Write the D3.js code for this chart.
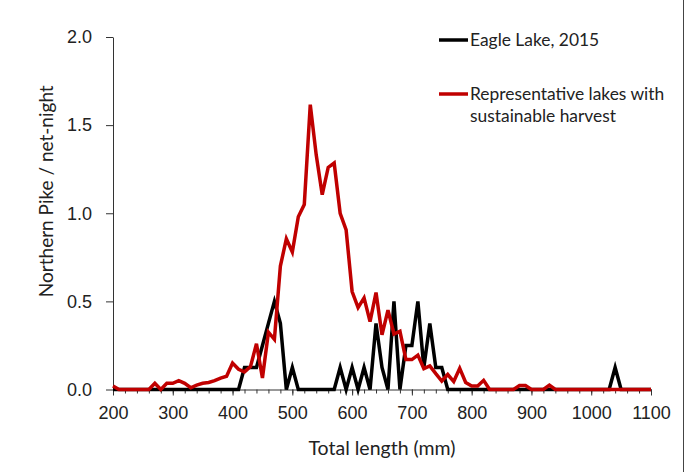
<!DOCTYPE html>
<html>
<head>
<meta charset="utf-8">
<script src="https://cdn.jsdelivr.net/npm/d3@7"></script>
<style>
  body { margin: 0; background: #fff; }
  svg { display: block; font-family: Lato, "Open Sans", sans-serif; }
</style>
</head>
<body>
<div id="chart"></div>
<script>
const W = 688, H = 472;
const margin = { top: 37, right: 37, bottom: 83, left: 113 };

// length classes, 10 mm bins
const lengths = d3.range(200, 1101, 10);

// Eagle Lake, 2015 (fish / net-night), non-zero bins only
const eagleNonZero = {
  420: 0.125, 430: 0.125, 440: 0.125, 450: 0.25, 460: 0.375, 470: 0.5, 480: 0.375,
  500: 0.125, 580: 0.125, 600: 0.125, 620: 0.125, 640: 0.375, 650: 0.125,
  670: 0.5, 690: 0.25, 700: 0.25, 710: 0.5, 720: 0.125, 730: 0.375,
  740: 0.125, 750: 0.125, 1040: 0.125
};

// representative lakes with sustainable harvest, non-zero bins only
const refNonZero = {
  200: 0.02, 270: 0.035, 290: 0.035, 300: 0.035, 310: 0.05, 320: 0.035, 330: 0.01,
  340: 0.025, 350: 0.035, 360: 0.04, 370: 0.05, 380: 0.065, 390: 0.075,
  400: 0.15, 410: 0.115, 420: 0.1, 430: 0.13, 440: 0.26, 450: 0.065,
  460: 0.325, 470: 0.285, 480: 0.7, 490: 0.855, 500: 0.78, 510: 0.98,
  520: 1.05, 530: 1.616, 540: 1.33, 550: 1.105, 560: 1.26, 570: 1.285,
  580: 1.0, 590: 0.905, 600: 0.556, 610: 0.465, 620: 0.52, 630: 0.385,
  640: 0.55, 650: 0.31, 660: 0.45, 670: 0.315, 680: 0.33, 690: 0.17,
  700: 0.17, 710: 0.195, 720: 0.118, 730: 0.134, 740: 0.09, 750: 0.048,
  760: 0.085, 770: 0.045, 780: 0.12, 790: 0.04, 800: 0.02, 810: 0.02,
  820: 0.052, 880: 0.022, 890: 0.022, 930: 0.025
};

const eagle = lengths.map(l => eagleNonZero[l] || 0);
const reference = lengths.map(l => refNonZero[l] || 0);

const xTicks = d3.range(200, 1101, 100);
const xMinor = d3.range(200, 1101, 20);
const yTicks = [0, 0.5, 1.0, 1.5, 2.0];

const svg = d3.select("#chart").append("svg")
  .attr("width", W).attr("height", H);

// outer chart border (right edge visible)
svg.append("line")
  .attr("x1", 683.5).attr("x2", 683.5).attr("y1", 0).attr("y2", H)
  .attr("stroke", "#444").attr("stroke-width", 1);

const x = d3.scaleLinear().domain([200, 1100]).range([margin.left, W - margin.right]);
const y = d3.scaleLinear().domain([0, 2]).range([H - margin.bottom + 0.5, margin.top]);

const g = svg.append("g");

// minor ticks on x
g.append("g")
  .attr("transform", `translate(0,${y(0)})`)
  .call(d3.axisBottom(x).tickValues(xMinor).tickSize(4).tickFormat(""))
  .call(a => a.select(".domain").remove())
  .call(a => a.selectAll("line").attr("stroke", "#333"));

const xAxis = g.append("g")
  .attr("transform", `translate(0,${y(0)})`)
  .call(d3.axisBottom(x).tickValues(xTicks).tickSize(6).tickSizeOuter(0)
    .tickPadding(11).tickFormat(d3.format("d")));
xAxis.selectAll("text").attr("font-size", 18).attr("fill", "#222");

const yAxis = g.append("g")
  .attr("transform", `translate(${x(200)},0)`)
  .call(d3.axisLeft(y).tickValues(yTicks).tickSize(7).tickSizeOuter(0)
    .tickPadding(14).tickFormat(d3.format(".1f")));
yAxis.selectAll("text").attr("font-size", 18).attr("fill", "#222");

[xAxis, yAxis].forEach(a => {
  a.select(".domain").attr("stroke", "#333");
  a.selectAll("line").attr("stroke", "#333");
});

// axis titles
svg.append("text")
  .attr("x", (x(200) + x(1100)) / 2).attr("y", 455)
  .attr("text-anchor", "middle").attr("font-size", 19.5).attr("fill", "#222")
  .text("Total length (mm)");

svg.append("text")
  .attr("transform", `translate(53,${(y(0) + y(2)) / 2 - 22}) rotate(-90)`)
  .attr("text-anchor", "middle").attr("font-size", 19).attr("fill", "#222")
  .text("Northern Pike / net-night");

const line = d3.line()
  .x((d, i) => x(lengths[i]))
  .y(d => y(d))
  .curve(d3.curveLinear);

const series = [
  { name: "Eagle Lake, 2015", values: eagle, color: "#000000" },
  { name: "Representative lakes with sustainable harvest", values: reference, color: "#c00000" }
];

series.forEach(s => {
  g.append("path")
    .datum(s.values)
    .attr("d", line)
    .attr("fill", "none")
    .attr("stroke", s.color)
    .attr("stroke-width", 3.5)
    .attr("stroke-linejoin", "miter");
});

// legend
const legend = svg.append("g").attr("font-size", 17.4).attr("fill", "#222");
legend.append("line")
  .attr("x1", 439).attr("x2", 468).attr("y1", 40).attr("y2", 40)
  .attr("stroke", "#000").attr("stroke-width", 3.5);
legend.append("text").attr("x", 470).attr("y", 46).text("Eagle Lake, 2015");

legend.append("line")
  .attr("x1", 439).attr("x2", 468).attr("y1", 94).attr("y2", 94)
  .attr("stroke", "#c00000").attr("stroke-width", 3.5);
legend.append("text").attr("x", 470).attr("y", 100).text("Representative lakes with");
legend.append("text").attr("x", 470).attr("y", 122).text("sustainable harvest");
</script>
</body>
</html>
